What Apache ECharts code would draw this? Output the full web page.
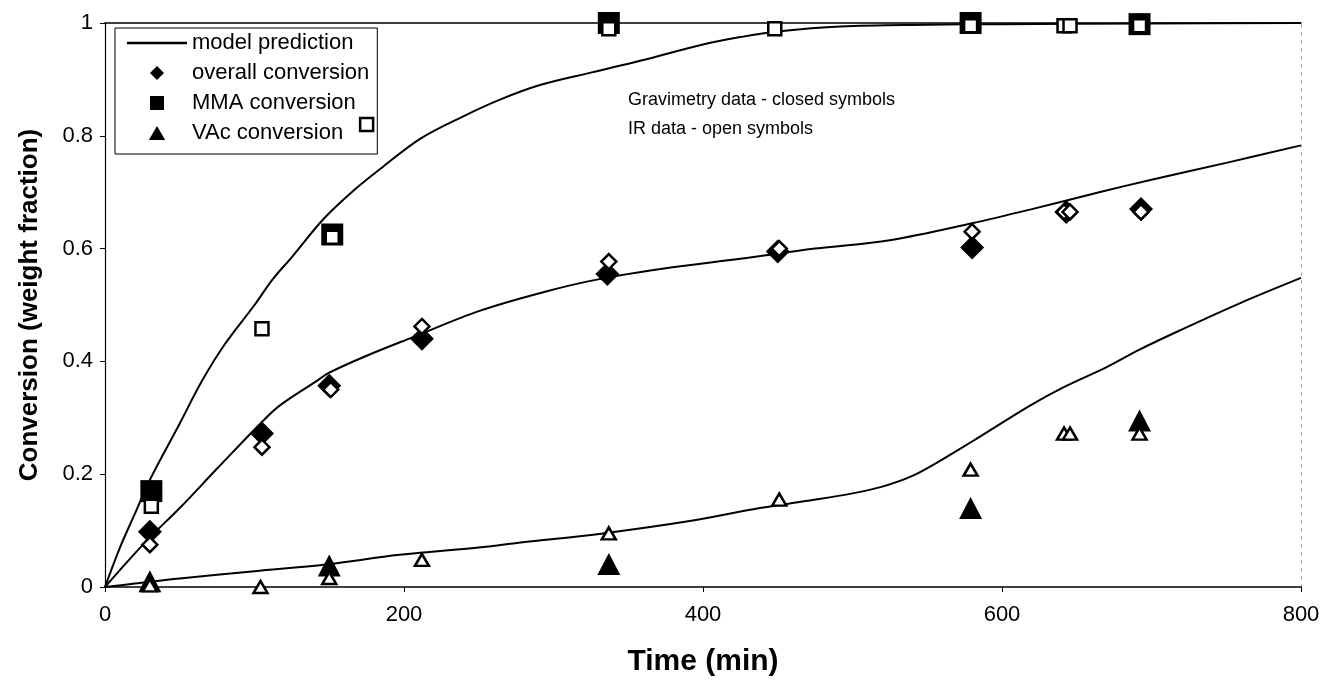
<!DOCTYPE html>
<html>
<head>
<meta charset="utf-8">
<script src="https://cdn.jsdelivr.net/npm/echarts@6/dist/echarts.min.js"></script>
<style>
  html, body { margin: 0; padding: 0; background: #fff; }
  #chart { width: 1327px; height: 685px; }
</style>
</head>
<body>
<div id="chart"></div>
<script>
// ---- data (time in min, conversion as weight fraction) ----
const xTicks = [0, 200, 400, 600, 800];
const yTicks = [0, 0.2, 0.4, 0.6, 0.8, 1];

// Gravimetry data - closed symbols
const overallClosed = [[30,0.098],[105,0.272],[150,0.357],[212,0.44],[336,0.555],[450,0.595],[580,0.602],[643,0.665],[693,0.67]];
const mmaClosed     = [[31,0.17],[152,0.625],[337,1.0],[579,1.0],[692,0.998]];
const vacClosed     = [[30,0.01],[150,0.038],[337,0.041],[579,0.14],[692,0.295]];

// IR data - open symbols
const overallOpen = [[30,0.075],[105,0.248],[151,0.35],[212,0.462],[337,0.577],[451,0.6],[580,0.63],[641.5,0.665],[645.5,0.665],[693,0.665]];
const mmaOpen     = [[31,0.143],[105,0.458],[152,0.62],[175,0.82],[337,0.99],[448,0.99],[579,0.995],[641.5,0.995],[645.5,0.995],[692,0.995]];
const vacOpen     = [[30,0.003],[104,0.0],[150,0.016],[212,0.048],[337,0.095],[451,0.155],[579,0.208],[641.5,0.272],[645.5,0.272],[692,0.272]];

// model prediction curves
const modelMMA = [[0,0],[10,0.07],[20,0.13],[30,0.19],[50,0.29],[65,0.366],[80,0.43],[100,0.5],[112,0.545],[125,0.585],[146,0.652],[165,0.7],[184,0.741],[211,0.795],[240,0.835],[265,0.865],[291,0.89],[325,0.912],[358,0.933],[400,0.962],[425,0.975],[450,0.985],[492,0.994],[550,0.997],[600,0.998],[700,0.999],[800,1.0]];
const modelOverall = [[0,0],[15,0.045],[30,0.088],[50,0.14],[75,0.21],[104,0.29],[117,0.322],[142,0.366],[150,0.38],[175,0.41],[206,0.443],[251,0.49],[295,0.524],[329,0.545],[375,0.565],[425,0.582],[475,0.6],[525,0.615],[580,0.645],[620,0.67],[665,0.70],[700,0.722],[750,0.752],[800,0.783]];
const modelVAc = [[0,0],[20,0.006],[50,0.015],[100,0.028],[148,0.04],[197,0.057],[250,0.07],[278,0.079],[333,0.095],[389,0.116],[438,0.14],[470,0.153],[500,0.166],[520,0.178],[540,0.197],[560,0.226],[580,0.258],[619,0.322],[641,0.354],[670,0.39],[692,0.421],[719,0.455],[759,0.503],[800,0.548]];

const FONT = 'Liberation Sans, Arial, sans-serif';

const chart = echarts.init(document.getElementById('chart'), null, { renderer: 'canvas' });

const closedStyle = { color: '#000', opacity: 1 };
const openStyle = { color: '#fff', borderColor: '#000', borderWidth: 2.5, opacity: 1 };

function lineSeries(data) {
  return {
    name: 'model prediction', type: 'line', data: data, showSymbol: false, symbol: 'none',
    smooth: 0.35, silent: true,
    lineStyle: { color: '#000', width: 2 }, itemStyle: { color: '#000' }, z: 2
  };
}
function scatter(name, data, symbol, size, style, z) {
  return { name: name, type: 'scatter', data: data, symbol: symbol, symbolSize: size, itemStyle: style, z: z, silent: true };
}

const option = {
  animation: false,
  backgroundColor: '#fff',
  color: ['#000'],
  grid: { left: 105, right: 26, top: 23, bottom: 98, containLabel: false },
  legend: {
    left: 115, top: 28, orient: 'vertical',
    padding: [4, 8, 10, 12],
    itemWidth: 60, itemHeight: 14, itemGap: 8,
    borderColor: '#000', borderWidth: 1,
    selectedMode: false,
    textStyle: { fontFamily: FONT, fontSize: 22, color: '#000', lineHeight: 22 },
    data: [
      { name: 'model prediction', icon: 'path://M0,0h60v2.5h-60z', itemStyle: { color: '#000', opacity: 1 } },
      { name: 'overall conversion', icon: 'path://M0,-7L7,0L0,7L-7,0Z', itemStyle: { color: '#000', opacity: 1 } },
      { name: 'MMA conversion', icon: 'path://M0,0h12v12h-12z', itemStyle: { color: '#000', opacity: 1 } },
      { name: 'VAc conversion', icon: 'path://M0,-6L7,6L-7,6Z', itemStyle: { color: '#000', opacity: 1 } }
    ]
  },
  xAxis: [{
    type: 'value', min: xTicks[0], max: xTicks[xTicks.length - 1], interval: xTicks[1] - xTicks[0],
    name: 'Time (min)', nameLocation: 'middle', nameGap: 60,
    nameTextStyle: { fontFamily: FONT, fontSize: 30, fontWeight: 'bold', color: '#000' },
    axisLine: { show: true, lineStyle: { color: '#000', width: 1.5 } },
    axisTick: { show: true, inside: false, length: 5, lineStyle: { color: '#000' } },
    axisLabel: { fontFamily: FONT, fontSize: 22, color: '#000', margin: 17 },
    splitLine: { show: false }
  }, {
    type: 'value', position: 'top', min: 0, max: 800,
    axisLine: { show: true, onZero: false, lineStyle: { color: '#000', width: 1.5 } },
    axisTick: { show: false }, axisLabel: { show: false }, splitLine: { show: false }
  }],
  yAxis: [{
    type: 'value', min: yTicks[0], max: yTicks[yTicks.length - 1], interval: yTicks[1] - yTicks[0],
    name: 'Conversion (weight fraction)', nameLocation: 'middle', nameGap: 62,
    nameTextStyle: { fontFamily: FONT, fontSize: 26, fontWeight: 'bold', color: '#000' },
    axisLine: { show: true, lineStyle: { color: '#000', width: 1.2 } },
    axisTick: { show: true, inside: false, length: 5, lineStyle: { color: '#000' } },
    axisLabel: { fontFamily: FONT, fontSize: 22, color: '#000', margin: 12,
      formatter: function (v) { return String(Math.round(v * 10) / 10); } },
    splitLine: { show: false }
  }, {
    type: 'value', position: 'right', min: 0, max: 1,
    axisLine: { show: true, onZero: false, lineStyle: { color: '#999', width: 1, type: [2, 6] } },
    axisTick: { show: false }, axisLabel: { show: false }, splitLine: { show: false }
  }],
  graphic: [
    { type: 'text', left: 628, top: 91, style: { text: 'Gravimetry data - closed symbols', fontFamily: FONT, fontSize: 18, fill: '#000' } },
    { type: 'text', left: 628, top: 120, style: { text: 'IR data - open symbols', fontFamily: FONT, fontSize: 18, fill: '#000' } }
  ],
  series: [
    lineSeries(modelMMA),
    lineSeries(modelOverall),
    lineSeries(modelVAc),
    scatter('overall conversion', overallClosed, 'diamond', [24, 24], closedStyle, 3),
    scatter('MMA conversion', mmaClosed, 'rect', [22, 22], closedStyle, 3),
    scatter('VAc conversion', vacClosed, 'triangle', [23, 22], closedStyle, 3),
    scatter('overall conversion (IR)', overallOpen, 'diamond', [15, 15], openStyle, 4),
    scatter('MMA conversion (IR)', mmaOpen, 'rect', [13, 13], openStyle, 4),
    scatter('VAc conversion (IR)', vacOpen, 'triangle', [14, 12], openStyle, 4)
  ]
};

chart.setOption(option);
</script>
</body>
</html>
